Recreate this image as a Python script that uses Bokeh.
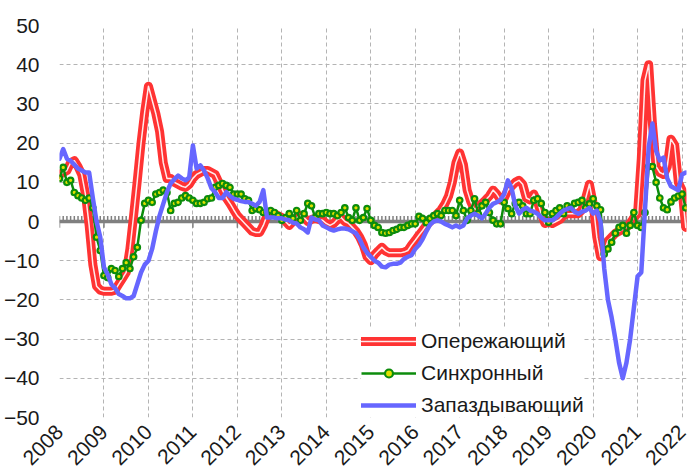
import math
from bokeh.plotting import figure
from bokeh.models import FixedTicker, Legend, LegendItem, ColumnDataSource
from bokeh.embed import file_html
from bokeh.resources import INLINE

# ---- data (monthly, starting January 2008) ----
start_year = 2008
years = list(range(2008, 2023))
y_ticks = list(range(-50, 51, 10))
series_names = ["Опережающий", "Синхронный", "Запаздывающий"]

lead = [
    12, 12.5, 13, 15, 15.5, 14, 12, 7, -1, -11, -16.5, -17.5,          # 2008
    -17.8, -17.8, -17.8, -17.5, -16, -14.5, -13, -7, 1.5, 10.5, 20, 28,  # 2009
    34.5, 31, 27.5, 23, 15, 11, 11, 10, 9.5, 9, 8.7, 9.5,               # 2010
    11, 12, 12.5, 13, 13, 12.5, 12, 10, 8, 6, 4.6, 3,                   # 2011
    1.5, 0.5, -0.5, -1.5, -2.5, -2.8, -2.8, -1, 1.5, 2.3, 2, 1.5,       # 2012
    1, 0, -1, 0, 1, 1.5, 1, 0, 0.5, 0.8, 0.5, 0.3,                      # 2013
    -0.5, -1, -0.5, 0.5, 1, 0, -0.5, -1.5, -2.5, -4, -6, -9,            # 2014
    -10, -8.5, -7.5, -6.6, -7.5, -8, -8, -8, -8, -7.8, -7.4, -6,        # 2015
    -4.8, -3.5, -2.3, -1, 0, 1, 2, 3, 4.5, 6.5, 10, 15,                 # 2016
    17.5, 14.5, 8, 5, 3, 4, 4.6, 5.5, 6.5, 8, 7, 5.5,                   # 2017
    6, 8, 9, 10, 10.5, 9.5, 6, 5.5, 7, 5, 2, -0.5,                      # 2018
    0, -0.5, 0, 0.5, 1.5, 2, 2, 2, 2, 3, 6, 9.5,                        # 2019
    4.6, -4, -9, -7.5, -5, -4, -3, -2.5, -2, -1.5, -0.5, 1,             # 2020
    2, 16, 36, 40, 25, 14, 12.5, 12, 14, 21, 19.5, 10,                  # 2021
    8, -1.5,                                                            # 2022
]

sync = [
    11, 13.8, 10, 10.5, 7.4, 6.6, 6, 5.4, 6, 3.5, -4, -7.4,
    -13.8, -14.3, -12, -12.5, -14, -12, -10.5, -12, -9, -6.6, 0.3, 4.6,
    5.4, 4.9, 7, 7.4, 8, 7.4, 2.8, 4.6, 4.9, 6, 6.6, 6,
    5.4, 4.6, 4.6, 4.9, 5.8, 6, 8.7, 9.2, 9.7, 9.2, 8.7, 7,
    7, 7, 5.8, 5.4, 2.8, 3.3, 3, 2.3, 2.3, 2.8, 2.3, 1.5,
    0.3, 1, 2, 0.8, 2.8, 0.3, 2, 4.6, 4, 1, 2, 2,
    2.3, 2, 2, 1.5, 2.3, 3.5, 1, 0.3, 3.5, 0.3, 1, 3.3,
    0.3, -1, -1.5, -2.8, -3, -2.8, -2.3, -2, -1.5, -1.5, -1, -0.6,
    -0.6, 1.3, 0.8, -0.3, 0.8, 1.5, 2, 1.5, 2.8, 2.8, 2.8, 1.5,
    5.4, 2.8, 0.3, 2.8, 5.8, 2, 4, 4.9, 2.3, 0.3, -0.6, -0.6,
    4.9, 3.3, 2, 4.6, 4.9, 4, 2, 2, 5.4, 5.8, 4.6, 2.3,
    -0.2, 2, 2.8, 3.5, 2, 4, 3.5, 4.6, 4.9, 5.4, 3.5, 4.5,
    5.8, 4, 3, -8.3, -7, -5.3, -3, -1.5, -1, -3, -1, 2.3,
    -1, -1.5, 2.3, 14, 14, 10, 6, 3.5, 3, 5, 6, 6.5,
    7, 3.5,
]

lag = [
    16, 18.5, 16, 15.5, 14.5, 13.5, 13, 12.5, 12.5, 6, 0, -4,
    -11.7, -13.5, -16, -17, -18.5, -19, -19.6, -19.6, -19, -16, -13, -11,
    -10, -7, -2.5, 1.5, 4.5, 7.5, 9.7, 10.8, 11.7, 11, 10.5, 11.2,
    19.4, 13.5, 14.3, 13, 11, 8.5, 7.5, 6, 6, 7.5, 6.5, 5.8,
    5.5, 5.2, 5, 5, 4.5, 4, 5, 8, 1, 1, 1, 0.8,
    0.8, 0.5, 0.3, -0.3, -0.5, -1.5, -2, -2.8, 1, 0.5, 0.3, -1,
    -1.5, -2, -2.3, -2, -1.8, -1.8, -2, -2.5, -3, -4.5, -6.6, -8,
    -9, -10, -10.5, -11.5, -11.7, -11, -10.8, -10.8, -10.5, -9.5, -9, -8.6,
    -7, -6, -4.5, -2.5, -0.8, 0, 0.3, 0, -0.6, -1, -1.5, -1,
    -1.5, -1, 0.8, 1.5, 2, 1.5, 0.8, 2, 3.5, 4.5, 4.9, 5.5,
    7, 10.5, 8.5, 4, 2, 3, 3.5, 2.8, 2.5, 2, 1, 0.3,
    0.3, 0.3, 1, 2, 2.8, 3.2, 3.5, 2.5, 2, 2.5, 2.8, 3.5,
    2, 2.8, 0, -12, -20, -24.5, -30, -36, -40, -36, -30, -22,
    -14, -13, 3, 19, 25, 18, 15.6, 16.3, 11, 9, 8.5, 8,
    12, 12.5,
]

n = len(lead)
t = [start_year + i / 12 for i in range(n)]
src = ColumnDataSource(data=dict(t=t, lead=lead, sync=sync, lag=lag))

FONT = "Liberation Sans"
TXT = "#1a1a1a"

p = figure(width=690, height=474, x_range=(2008, 2022.1), y_range=(-50, 50),
           output_backend="svg", toolbar_location=None,
           min_border_left=56, min_border_right=4, min_border_top=25, min_border_bottom=57)
p.outline_line_color = None
p.background_fill_color = "white"

# grid
p.xgrid.ticker = FixedTicker(ticks=years)
p.ygrid.ticker = FixedTicker(ticks=y_ticks)
for g in (p.xgrid, p.ygrid):
    g.grid_line_color = "#b4b4b4"
    g.grid_line_dash = "4 3"
    g.grid_line_width = 1

# axes
p.xaxis.ticker = FixedTicker(ticks=years)
p.xaxis.major_label_overrides = {yr: str(yr) for yr in years}
p.xaxis.major_label_orientation = math.pi / 4
p.yaxis.ticker = FixedTicker(ticks=y_ticks)
for ax in (p.xaxis, p.yaxis):
    ax.axis_line_color = None
    ax.major_tick_line_color = None
    ax.minor_tick_line_color = None
    ax.major_label_text_font = FONT
    ax.major_label_text_font_size = "21px"
    ax.major_label_text_color = TXT
p.yaxis.major_label_standoff = 14
p.xaxis.major_label_standoff = 5

# zero axis line with monthly tick marks
month_x = [start_year + i / 12 for i in range((years[-1] - years[0]) * 12 + 2)]
minor_x = [x for i, x in enumerate(month_x) if i % 12 != 0]
p.segment(x0=minor_x, y0=[0] * len(minor_x), x1=minor_x, y1=[1.4] * len(minor_x),
          line_color="#808080", line_width=1.5)
p.segment(x0=years, y0=[-1.6] * len(years), x1=years, y1=[1.4] * len(years),
          line_color="#808080", line_width=1.5)
p.line(x=[years[0], years[-1] + 0.1], y=[0, 0], line_color="#808080", line_width=3.5)

# series
r_red = p.line("t", "lead", source=src, line_color="#ff3333", line_width=9,
               line_join="round", line_cap="round")
r_red_w = p.line("t", "lead", source=src, line_color="white", line_width=1.5,
                 line_alpha=0.9, line_join="round", line_cap="round")
r_grn = p.line("t", "sync", source=src, line_color="#0c8c0c", line_width=2.5,
               line_join="round")
r_grn_m = p.scatter("t", "sync", source=src, size=5.5, marker="circle",
                    line_color="#0c8c0c", line_width=2.2, fill_color="#e0e000")
r_blu = p.line("t", "lag", source=src, line_color="#6666ff", line_width=4.5,
               line_join="round", line_cap="round")

legend = Legend(items=[
    LegendItem(label=series_names[0], renderers=[r_red, r_red_w]),
    LegendItem(label=series_names[1], renderers=[r_grn, r_grn_m]),
    LegendItem(label=series_names[2], renderers=[r_blu]),
], location=(302, 0))
legend.label_text_font = FONT
legend.label_text_font_size = "21px"
legend.label_text_color = TXT
legend.glyph_width = 55
legend.glyph_height = 20
legend.label_height = 20
legend.spacing = 8
legend.padding = 2
legend.margin = 0
legend.label_standoff = 5
legend.border_line_color = None
legend.background_fill_color = "white"
legend.background_fill_alpha = 1.0
p.add_layout(legend, "center")

open("out.html", "w").write(file_html(p, INLINE))
